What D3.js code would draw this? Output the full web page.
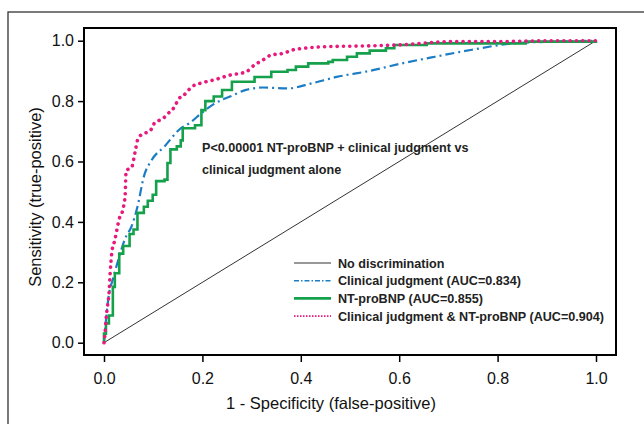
<!DOCTYPE html>
<html><head><meta charset="utf-8">
<script src="https://cdn.jsdelivr.net/npm/d3@7"></script>
<style>body{margin:0;background:#fff;} svg{display:block;font-family:"Liberation Sans",Arial,sans-serif;}</style>
</head><body><div id="chart"></div>
<script>
const xTicks = [0, 0.2, 0.4, 0.6, 0.8, 1.0];
const yTicks = [0, 0.2, 0.4, 0.6, 0.8, 1.0];

const clinicalFpr = [0,0.004,0.01,0.018,0.031,0.043,0.056,0.068,0.081,0.097,0.123,0.156,0.173,0.198,0.223,0.256,0.289,0.323,0.373,0.423,0.473,0.54,0.606,0.673,0.748,0.831,0.915,1.0];
const clinicalTpr = [0,0.075,0.16,0.21,0.285,0.345,0.385,0.45,0.55,0.605,0.65,0.71,0.726,0.76,0.79,0.815,0.837,0.845,0.842,0.859,0.88,0.90,0.925,0.947,0.97,0.991,0.997,1.0];

const ntFpr = [0,0,0.004,0.01,0.018,0.018,0.022,0.031,0.039,0.052,0.06,0.068,0.081,0.089,0.099,0.106,0.123,0.129,0.135,0.148,0.156,0.16,0.185,0.198,0.206,0.223,0.24,0.26,0.29,0.306,0.34,0.373,0.39,0.415,0.456,0.465,0.494,0.514,0.54,0.573,0.59,0.623,0.656,0.823,0.857,1.0];
const ntTpr = [0,0.03,0.064,0.09,0.10,0.185,0.23,0.295,0.32,0.36,0.375,0.43,0.45,0.47,0.49,0.535,0.54,0.595,0.64,0.65,0.67,0.71,0.72,0.77,0.80,0.815,0.837,0.864,0.864,0.88,0.897,0.903,0.914,0.925,0.93,0.936,0.947,0.958,0.967,0.975,0.986,0.986,0.991,0.991,0.997,1.0];

const combFpr = [0,0.002,0.004,0.007,0.01,0.0125,0.016,0.022,0.031,0.039,0.043,0.045,0.056,0.063,0.068,0.077,0.093,0.104,0.118,0.131,0.143,0.153,0.16,0.168,0.181,0.198,0.223,0.256,0.289,0.306,0.323,0.339,0.364,0.385,0.406,0.448,0.54,0.598,0.706,0.79,0.92,1.0];
const combTpr = [0,0.03,0.075,0.12,0.16,0.23,0.30,0.34,0.41,0.445,0.49,0.57,0.58,0.63,0.67,0.69,0.70,0.73,0.74,0.76,0.78,0.81,0.815,0.83,0.85,0.86,0.87,0.886,0.897,0.92,0.936,0.952,0.958,0.97,0.975,0.98,0.983,0.986,0.997,0.997,1.0,1.0];

const legendLabels = ["No discrimination","Clinical judgment (AUC=0.834)","NT-proBNP (AUC=0.855)","Clinical judgment & NT-proBNP (AUC=0.904)"];
const annotationLines = ["P<0.00001 NT-proBNP + clinical judgment vs","clinical judgment alone"];

const W = 644, H = 424;
const svg = d3.select("#chart").append("svg").attr("width", W).attr("height", H);

// outer frame
svg.append("rect").attr("x", 8).attr("y", 12).attr("width", 650).attr("height", 430)
  .attr("fill", "none").attr("stroke", "#333").attr("stroke-width", 1.3);

const x = d3.scaleLinear().domain([0, 1]).range([104, 596]);
const y = d3.scaleLinear().domain([0, 1]).range([342.7, 40.7]);

const colors = {diag: "#333", clin: "#1c7cc4", nt: "#15a04c", comb: "#e8197c"};

const line = d3.line().x(d => x(d[0])).y(d => y(d[1]));

// diagonal
svg.append("path").datum([[0,0],[1,1]]).attr("d", line)
  .attr("fill","none").attr("stroke", colors.diag).attr("stroke-width", 1);

// clinical
svg.append("path").datum(d3.zip(clinicalFpr, clinicalTpr)).attr("d", d3.line().x(d => x(d[0])).y(d => y(d[1])).curve(d3.curveMonotoneX))
  .attr("fill","none").attr("stroke", colors.clin).attr("stroke-width", 2.2)
  .attr("stroke-dasharray", "9 4 2 4");
// nt-proBNP
svg.append("path").datum(d3.zip(ntFpr, ntTpr)).attr("d", d3.line().x(d => x(d[0])).y(d => y(d[1])).curve(d3.curveStepAfter))
  .attr("fill","none").attr("stroke", colors.nt).attr("stroke-width", 2.6);
// combined
svg.append("path").datum(d3.zip(combFpr, combTpr)).attr("d", d3.line().x(d => x(d[0])).y(d => y(d[1])).curve(d3.curveMonotoneX))
  .attr("fill","none").attr("stroke", colors.comb).attr("stroke-width", 3.6)
  .attr("stroke-linecap","round").attr("stroke-dasharray", "0.1 6.2");

// plot frame
svg.append("rect").attr("x", 84).attr("y", 28).attr("width", 532).attr("height", 327)
  .attr("fill","none").attr("stroke","#000").attr("stroke-width", 2);

// axes
const xAxis = svg.append("g").attr("transform", "translate(0,355)")
  .call(d3.axisBottom(x).tickValues(xTicks).tickFormat(d3.format(".1f")).tickSize(7).tickPadding(11));
xAxis.select(".domain").remove();
xAxis.selectAll("text").attr("font-size", 16).attr("fill","#111").attr("font-family","Liberation Sans, Arial");
xAxis.selectAll("line").attr("stroke","#000").attr("stroke-width",1.5);

const yAxis = svg.append("g").attr("transform", "translate(84,0)")
  .call(d3.axisLeft(y).tickValues(yTicks).tickFormat(d3.format(".1f")).tickSize(6).tickPadding(4));
yAxis.select(".domain").remove();
yAxis.selectAll("text").attr("font-size", 16).attr("fill","#111").attr("font-family","Liberation Sans, Arial");
yAxis.selectAll("line").attr("stroke","#000").attr("stroke-width",1.5);

svg.append("text").attr("x", 331).attr("y", 409).attr("text-anchor","middle")
  .attr("font-size", 16.5).attr("fill","#111").text("1 - Specificity (false-positive)");
svg.append("text").attr("transform","translate(41,197) rotate(-90)").attr("text-anchor","middle")
  .attr("font-size", 16.5).attr("fill","#111").text("Sensitivity (true-positive)");

// annotation
svg.selectAll("text.ann").data(annotationLines).join("text").attr("class","ann")
  .attr("x", 202).attr("y", (d,i) => 151.5 + i*22)
  .attr("font-size", 12.6).attr("font-weight","bold").attr("fill","#222").text(d => d);

// legend
const legStyles = [
  {c: colors.diag, w: 1, dash: null},
  {c: colors.clin, w: 1.5, dash: "5 2 1.5 2"},
  {c: colors.nt, w: 2.6, dash: null},
  {c: colors.comb, w: 1.6, dash: "1.5 1.5"}
];
const leg = svg.append("g");
legendLabels.forEach((lab, i) => {
  const yy = 263 + i*17.7;
  const s = legStyles[i];
  leg.append("line").attr("x1", 294).attr("x2", 331).attr("y1", yy).attr("y2", yy)
    .attr("stroke", s.c).attr("stroke-width", s.w).attr("stroke-dasharray", s.dash);
  leg.append("text").attr("x", 338).attr("y", yy + 4.5).attr("font-size", 12.6)
    .attr("font-weight","bold").attr("fill","#222").text(lab);
});
</script></body></html>
